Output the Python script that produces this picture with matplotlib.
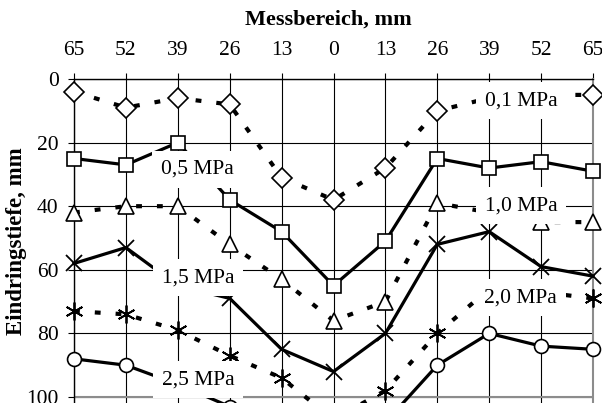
import matplotlib
matplotlib.use('Agg')
import matplotlib.pyplot as plt

# Messbereich, mm (positions left -> right)
positions = ['65', '52', '39', '26', '13', '0', '13', '26', '39', '52', '65']

# Eindringstiefe, mm for each pressure
p01 = [4, 9, 6, 8, 31, 38, 28, 10, 6, 5, 5]
p05 = [25, 27, 20, 38, 48, 65, 51, 25, 28, 26, 29]
p10 = [42, 40, 40, 52, 63, 76, 70, 39, 42, 45, 45]
p15 = [58, 53, 65, 69, 85, 92, 80, 52, 48, 59, 62]
p20 = [73, 74, 79, 87, 94, 107, 98, 80, 66, 67, 69]
p25 = [88, 90, 96, 103, 108, 112, 108, 90, 80, 84, 85]

series_names = ['0,1 MPa', '0,5 MPa', '1,0 MPa', '1,5 MPa', '2,0 MPa', '2,5 MPa']
# where the inline labels sit (x index, depth)
label_x = [8.61, 2.38, 8.61, 2.39, 8.61, 2.39]
label_y = [6.8, 28.4, 39.8, 62.5, 68.8, 94.6]

plt.rcParams['font.family'] = ['Liberation Serif', 'DejaVu Serif']

fig = plt.figure(figsize=(6.02, 4.03), dpi=100)
ax = fig.add_axes([74 / 602, 0, (593 - 74) / 602, (403 - 79) / 403])

x = list(range(len(positions)))
dotted = (0, (1.4, 3.6))
styles = [
    dict(ls=dotted, lw=3.0, marker='D', ms=10.5),
    dict(ls='-', lw=2.3, marker='s', ms=9.5),
    dict(ls=dotted, lw=3.0, marker='^', ms=11),
    dict(ls='-', lw=2.3, marker='x', ms=11, mew=1.3),
    dict(ls=dotted, lw=3.0, marker=(6, 2, 0), ms=13, mew=1.3),
    dict(ls='-', lw=2.3, marker='o', ms=10),
]
data = [p01, p05, p10, p15, p20, p25]

for vals, st in zip(data, styles):
    ax.plot(x, vals, color='black', mfc='white', mec='black',
            mew=st.pop('mew', 1.2), dash_capstyle='butt',
            clip_on=False, zorder=4, **st)

for name, lx, ly in zip(series_names, label_x, label_y):
    ax.text(lx, ly, name, fontsize=15.5, ha='center', va='center', zorder=10,
            bbox=dict(boxstyle='square,pad=0.42', fc='white', ec='none'))

ax.set_xlim(0, 10)
ax.set_ylim((403 - 79) / 3.18, 0)
ax.set_xticks(x)
ax.set_xticklabels(positions)
ax.set_yticks([0, 20, 40, 60, 80, 100])
ax.xaxis.tick_top()
ax.tick_params(axis='x', direction='out', length=4, width=0.8, pad=10, labelsize=15.5)
ax.tick_params(axis='y', direction='out', length=4, width=0.8, pad=7, labelsize=15.5)

ax.grid(True, color='black', lw=0.8, zorder=1)
ax.set_axisbelow(True)
ax.axhline(100, color='#8c8c8c', lw=1.5, zorder=2)
ax.spines['bottom'].set_visible(False)
ax.spines['right'].set_color('#8c8c8c')
ax.spines['right'].set_linewidth(1.5)
ax.spines['top'].set_linewidth(1.0)
ax.spines['left'].set_linewidth(1.0)

fig.text(328 / 602, 1 - 19.5 / 403, 'Messbereich, mm', fontsize=16,
         fontweight='bold', ha='center', va='center')
fig.text(16.5 / 602, 1 - 241 / 403, 'Eindringstiefe, mm', fontsize=16.5,
         fontweight='bold', ha='center', va='center', rotation=90)

fig.savefig('out.png', dpi=100)
